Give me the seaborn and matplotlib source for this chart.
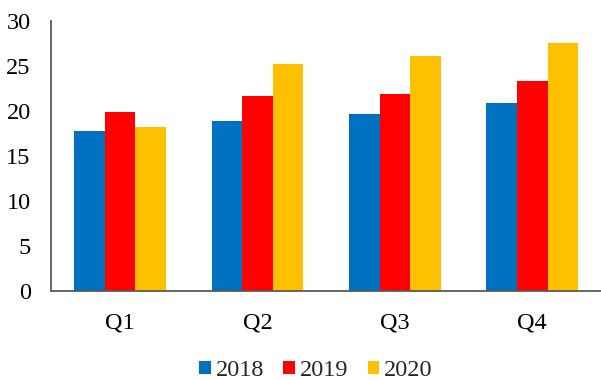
import matplotlib
matplotlib.use("Agg")
import matplotlib.pyplot as plt
import seaborn as sns
import pandas as pd
from matplotlib.patches import Patch

quarters = ["Q1", "Q2", "Q3", "Q4"]
years = ["2018", "2019", "2020"]
v2018 = [17.7, 18.9, 19.6, 20.8]
v2019 = [19.8, 21.6, 21.9, 23.3]
v2020 = [18.2, 25.2, 26.1, 27.5]
colors = ["#0070C0", "#FF0000", "#FFC000"]

rows = []
for yr, vals in zip(years, [v2018, v2019, v2020]):
    for q, v in zip(quarters, vals):
        rows.append({"quarter": q, "year": yr, "value": v})
df = pd.DataFrame(rows)

sns.set_style("white")
plt.rcParams["font.family"] = ["Liberation Serif", "DejaVu Serif"]

FS = 17.5

fig = plt.figure(figsize=(6.01, 3.80), dpi=100)
ax = fig.add_axes([51.5 / 601, 1 - 290.7 / 380, 1 - 51.5 / 601, 270 / 380])

sns.barplot(data=df, x="quarter", y="value", hue="year", order=quarters,
            hue_order=years, palette=colors, width=0.667, gap=0,
            linewidth=0, saturation=1, errorbar=None, legend=False, ax=ax)

ax.set_xlim(-0.5, 3.5)
ax.set_ylim(0, 30)
ax.set_yticks([0, 5, 10, 15, 20, 25, 30])
ax.set_xlabel("")
ax.set_ylabel("")

for s in ["top", "right"]:
    ax.spines[s].set_visible(False)
for s in ["left", "bottom"]:
    ax.spines[s].set_color("#595959")
    ax.spines[s].set_linewidth(1.3)

ax.tick_params(axis="y", direction="in", length=6, width=1.0, color="#404040",
               labelsize=FS, pad=15, labelcolor="black")
ax.tick_params(axis="x", which="major", length=0, labelsize=FS, pad=16,
               labelcolor="black")
ax.set_xticks([0.5, 1.5, 2.5], minor=True)
ax.tick_params(axis="x", which="minor", direction="in", length=6, width=1.0,
               color="#404040")

handles = [Patch(facecolor=c, edgecolor="none", label=y) for c, y in zip(colors, years)]
fig.legend(handles=handles, loc="center", bbox_to_anchor=(316 / 601, 1 - 370.5 / 380),
           ncol=3, frameon=False, fontsize=FS, handlelength=0.49, handleheight=0.49,
           handletextpad=0.2, columnspacing=0.78, borderaxespad=0, borderpad=0)

fig.savefig("out.png", dpi=100)
